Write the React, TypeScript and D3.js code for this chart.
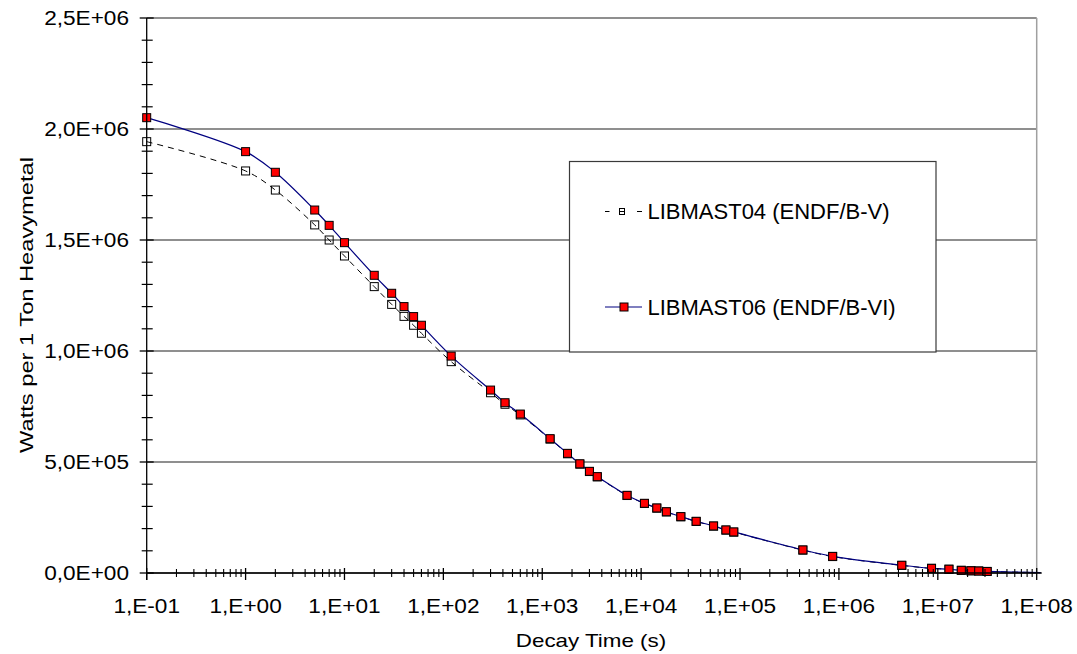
import React from "react";
import * as d3 from "d3";

// Decay times (s) at which the decay heat was evaluated
const decayTimes = [
  0.1, 1, 2, 5, 7, 10, 20, 30, 40, 50, 60, 120, 300, 420, 600, 1200, 1800, 2400,
  3000, 3600, 7200, 10800, 14400, 18000, 25200, 36000, 54000, 72000, 86400,
  432000, 864000, 4.32e6, 8.64e6, 1.296e7, 1.728e7, 2.16e7, 2.592e7, 3.1536e7, 1.1e8,
];

// Decay heat, Watts per 1 ton heavy metal
const libmast04 = [
  1.943e6, 1.811e6, 1.725e6, 1.568e6, 1.5e6, 1.428e6, 1.29e6, 1.21e6, 1.156e6,
  1.116e6, 1.08e6, 9.52e5, 8.12e5, 7.6e5, 7.12e5, 6.03e5, 5.37e5, 4.9e5, 4.57e5,
  4.33e5, 3.49e5, 3.13e5, 2.92e5, 2.75e5, 2.53e5, 2.32e5, 2.11e5, 1.93e5,
  1.84e5, 1.03e5, 7.4e4, 3.4e4, 2.1e4, 1.7e4, 1.2e4, 1.0e4, 9e3, 7e3, 1.5e3,
];
const libmast06 = [
  2.051e6, 1.898e6, 1.805e6, 1.635e6, 1.566e6, 1.488e6, 1.341e6, 1.26e6, 1.2e6,
  1.155e6, 1.116e6, 9.77e5, 8.24e5, 7.67e5, 7.16e5, 6.05e5, 5.39e5, 4.92e5,
  4.58e5, 4.34e5, 3.5e5, 3.14e5, 2.93e5, 2.76e5, 2.54e5, 2.33e5, 2.12e5, 1.94e5,
  1.85e5, 1.04e5, 7.5e4, 3.5e4, 2.1e4, 1.7e4, 1.2e4, 1.0e4, 9e3, 7e3, 1.5e3,
];

const seriesNames = ["LIBMAST04 (ENDF/B-V)", "LIBMAST06 (ENDF/B-VI)"];
const xTickLabels = ["1,E-01", "1,E+00", "1,E+01", "1,E+02", "1,E+03", "1,E+04", "1,E+05", "1,E+06", "1,E+07", "1,E+08"];
const yTickValues = [0, 5e5, 1e6, 1.5e6, 2e6, 2.5e6];
const yTickLabels = ["0,0E+00", "5,0E+05", "1,0E+06", "1,5E+06", "2,0E+06", "2,5E+06"];
const xTitle = "Decay Time (s)";
const yTitle = "Watts per 1 Ton Heavymetal";

const W = 1077;
const H = 654;
const FONT = "'Liberation Sans', Arial, Helvetica, sans-serif";

export default function App() {
  const x = d3.scaleLog().domain([0.1, 1e8]).range([146.7, 1036.7]);
  const y = d3.scaleLinear().domain([0, 2.5e6]).range([573, 18]);

  const [x0, x1] = x.range();
  const [y0, y1] = y.range();

  const majorX = d3.range(-1, 9).map((e) => Math.pow(10, e));
  const minorX: number[] = [];
  for (let e = -1; e < 8; e++) {
    for (let m = 2; m <= 9; m++) minorX.push(m * Math.pow(10, e));
  }
  const minorY = d3.range(0, 2.5e6 + 1, 1e5).filter((v) => v % 5e5 !== 0);

  const line = d3
    .line<number>()
    .x((_, i) => x(decayTimes[i]))
    .y((d) => y(d))
    .curve(d3.curveCatmullRom.alpha(0.5));

  // markers are only drawn inside the axis range
  const pts = (vals: number[]) =>
    vals
      .map((v, i) => ({ t: decayTimes[i], v }))
      .filter((p) => p.t <= 1e8);

  const ms = 8;
  const tickScale = 1.16;

  return (
    <svg
      width={W}
      height={H}
      style={{ position: "absolute", left: 0, top: 0, background: "#fff" }}
      fontFamily={FONT}
    >
      <rect x={0} y={0} width={W} height={H} fill="#fff" />

      {/* gridlines and plot border */}
      {yTickValues.map((v) => (
        <line key={"g" + v} x1={x0} x2={x1} y1={y(v)} y2={y(v)} stroke="#6a6a6a" strokeWidth={1.3} />
      ))}
      <line x1={x1} x2={x1} y1={y1} y2={y0} stroke="#a0a0a0" strokeWidth={1.5} />

      {/* LIBMAST04 series */}
      <path d={line(libmast04) || ""} fill="none" stroke="#000" strokeWidth={1} strokeDasharray="6,5" />
      {pts(libmast04).map((p, i) => (
        <rect
          key={"a" + i}
          x={x(p.t) - ms / 2}
          y={y(p.v) - ms / 2}
          width={ms}
          height={ms}
          fill="none"
          stroke="#000"
          strokeWidth={1}
        />
      ))}

      {/* LIBMAST06 series */}
      <path d={line(libmast06) || ""} fill="none" stroke="#000080" strokeWidth={1.2} />
      {pts(libmast06).map((p, i) => (
        <rect
          key={"b" + i}
          x={x(p.t) - ms / 2}
          y={y(p.v) - ms / 2}
          width={ms}
          height={ms}
          fill="#ff0000"
          stroke="#000"
          strokeWidth={1}
        />
      ))}

      {/* y axis */}
      <line x1={x0} x2={x0} y1={y1} y2={y0 + 7} stroke="#000" strokeWidth={1.3} />
      {yTickValues.map((v) => (
        <line key={"ym" + v} x1={x0 - 7} x2={x0 + 7} y1={y(v)} y2={y(v)} stroke="#000" strokeWidth={1.3} />
      ))}
      {minorY.map((v) => (
        <line key={"yn" + v} x1={x0 - 5} x2={x0 + 6} y1={y(v)} y2={y(v)} stroke="#000" strokeWidth={1.2} />
      ))}
      {yTickValues.map((v, i) => (
        <text
          key={"yl" + v}
          transform={`translate(129,${y(v) + 7}) scale(${tickScale},1)`}
          textAnchor="end"
          fontSize={19.5}
          fill="#000"
        >
          {yTickLabels[i]}
        </text>
      ))}

      {/* x axis */}
      <line x1={x0} x2={x1 + 5} y1={y0} y2={y0} stroke="#000" strokeWidth={1.3} />
      {majorX.map((v) => (
        <line key={"xm" + v} x1={x(v)} x2={x(v)} y1={y0 - 5} y2={y0 + 7} stroke="#000" strokeWidth={1.3} />
      ))}
      {minorX.map((v) => (
        <line key={"xn" + v} x1={x(v)} x2={x(v)} y1={y0 - 4} y2={y0 + 4} stroke="#000" strokeWidth={1.1} />
      ))}
      {majorX.map((v, i) => (
        <text
          key={"xl" + v}
          transform={`translate(${x(v)},613) scale(${tickScale},1)`}
          textAnchor="middle"
          fontSize={19.5}
          fill="#000"
        >
          {xTickLabels[i]}
        </text>
      ))}

      {/* axis titles */}
      <text
        transform="translate(591,647) scale(1.21,1)"
        textAnchor="middle"
        fontSize={18.5}
        fill="#000"
      >
        {xTitle}
      </text>
      <text
        transform="translate(33,305) rotate(-90) scale(1.28,1)"
        textAnchor="middle"
        fontSize={18.5}
        fill="#000"
      >
        {yTitle}
      </text>

      {/* legend */}
      <g>
        <rect x={569.5} y={161.5} width={366.5} height={190.5} fill="#fff" stroke="#3a3a3a" strokeWidth={1.2} />
        <line x1={605} x2={609.5} y1={211.5} y2={211.5} stroke="#000" strokeWidth={1} />
        <line x1={637} x2={642} y1={211.5} y2={211.5} stroke="#000" strokeWidth={1} />
        <line x1={619.5} x2={624.5} y1={211.5} y2={211.5} stroke="#000" strokeWidth={1} />
        <rect x={619.5} y={208.5} width={5} height={6} fill="none" stroke="#000" strokeWidth={1} />
        <text x={647.5} y={218.5} fontSize={22} fill="#000">
          {seriesNames[0]}
        </text>
        <line x1={605} x2={642} y1={307} y2={307} stroke="#000080" strokeWidth={1.2} />
        <rect x={620} y={303} width={8} height={8} fill="#ff0000" stroke="#000" strokeWidth={1} />
        <text x={647.5} y={315} fontSize={22} fill="#000">
          {seriesNames[1]}
        </text>
      </g>
    </svg>
  );
}
